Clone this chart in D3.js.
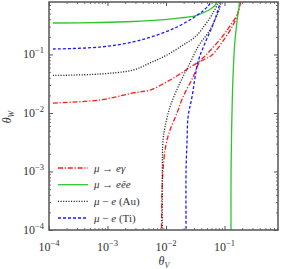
<!DOCTYPE html>
<html>
<head>
<meta charset="utf-8">
<script src="https://cdn.jsdelivr.net/npm/d3@7"></script>
<style>
  body { margin: 0; background: white; }
  svg { display: block; }
</style>
</head>
<body>
<script>

// each curve: [thetaV, thetaW] points
var muEGamma = [
  [1.17e-4, 0.0148], [7.45e-4, 0.0167], [2.73e-3, 0.022], [5.32e-3, 0.0247],
  [0.0117, 0.0366], [0.0195, 0.0502], [0.0339, 0.0716], [0.0464, 0.0837],
  [0.0611, 0.098], [0.102, 0.191], [0.140, 0.319], [0.170, 0.512],
  [0.184, 0.701], [0.188, 0.759], [0.177, 0.624], [0.164, 0.473],
  [0.134, 0.345], [0.0905, 0.199], [0.0483, 0.098], [0.0381, 0.0775],
  [0.029, 0.0412], [0.0195, 0.0188], [0.0154, 0.01], [0.0117, 5.12e-3],
  [0.0104, 3.45e-3], [9.62e-3, 2.33e-3], [8.89e-3, 1.06e-3], [8.55e-3, 4.83e-4],
  [8.38e-3, 1e-4]
];
var muEEE = [
  [1.17e-4, 0.345], [7.45e-4, 0.352], [2.73e-3, 0.366], [7.88e-3, 0.389],
  [0.0173, 0.421], [0.0313, 0.455], [0.0464, 0.532], [0.0611, 0.624],
  [0.0716, 0.729], [0.0775, 0.855], [0.115, 1.04], [0.173, 0.855],
  [0.164, 0.389], [0.151, 0.177], [0.140, 0.0447], [0.132, 4.55e-3],
  [0.129, 7.16e-4], [0.129, 1e-4]
];
var muEAu = [
  [1.17e-4, 0.0438], [7.45e-4, 0.0464], [2.73e-3, 0.0543], [5.32e-3, 0.0716],
  [0.0104, 0.098], [0.0195, 0.145], [0.0313, 0.199], [0.0464, 0.319],
  [0.0635, 0.512], [0.0775, 0.759], [0.0805, 0.855], [0.0837, 0.962],
  [0.0871, 0.855], [0.0837, 0.649], [0.0688, 0.389], [0.0522, 0.233],
  [0.0366, 0.145], [0.0257, 0.0716], [0.0173, 0.0326], [0.0117, 0.0127],
  [9.62e-3, 5.77e-3], [8.89e-3, 3.45e-3], [8.65e-3, 1.06e-3], [8.65e-3, 1e-4]
];
var muETi = [
  [1.17e-4, 0.124], [7.45e-4, 0.134], [2.73e-3, 0.164], [7.0e-3, 0.215],
  [0.0154, 0.295], [0.029, 0.421], [0.0428, 0.555], [0.0543, 0.701],
  [0.0611, 0.855], [0.0716, 1.0], [0.0871, 0.855], [0.0837, 0.759],
  [0.0745, 0.512], [0.0611, 0.295], [0.0464, 0.157], [0.0352, 0.0745],
  [0.0278, 0.0188], [0.0238, 8.55e-3], [0.0229, 3.45e-3], [0.022, 1.06e-3],
  [0.022, 1e-4]
];

var decades = [1e-4, 1e-3, 1e-2, 1e-1];
var decadeLabels = ["\u22124", "\u22123", "\u22122", "\u22121"];
var seriesNames = ["e\u03b3", "e\u0113e", "(Au)", "(Ti)"];

var W = 281, H = 269;
var pLeft = 49, pRight = 278, pTop = 2, pBottom = 230;

var svg = d3.select("body").append("svg")
    .attr("width", W).attr("height", H);

var x = d3.scaleLog().domain([1e-4, 0.82]).range([pLeft, pRight]);
var y = d3.scaleLog().domain([1e-4, 0.789]).range([pBottom, pTop]);

svg.append("clipPath").attr("id", "plotclip")
  .append("rect")
    .attr("x", pLeft).attr("y", pTop)
    .attr("width", pRight - pLeft).attr("height", pBottom - pTop);

// minor ticks: 2..9 of each decade inside the domain
function minorTicks(scale){
    var out = [];
    var dom = scale.domain();
    decades.forEach(function(d){
	for(var k = 2; k < 10; k++){
	    var v = d * k;
	    if(v < dom[1]) out.push(v);
	}
    });
    return out;
}

var frameColor = "#555";

function drawAxis(axisFn, scale, transform){
    // major
    var g = svg.append("g").attr("transform", transform)
	.call(axisFn(scale).tickValues(decades).tickSize(-4).tickFormat(""));
    g.select(".domain").remove();
    g.selectAll("line").attr("stroke", frameColor).attr("stroke-width", 1);
    // minor
    var g2 = svg.append("g").attr("transform", transform)
	.call(axisFn(scale).tickValues(minorTicks(scale)).tickSize(-2).tickFormat(""));
    g2.select(".domain").remove();
    g2.selectAll("line").attr("stroke", frameColor).attr("stroke-width", 0.8);
}

drawAxis(d3.axisBottom, x, "translate(0," + pBottom + ")");
drawAxis(d3.axisTop, x, "translate(0," + pTop + ")");
drawAxis(d3.axisLeft, y, "translate(" + pLeft + ",0)");
drawAxis(d3.axisRight, y, "translate(" + pRight + ",0)");

var serif = "'Liberation Serif', 'DejaVu Serif', serif";

// tick labels like 10^-3
function powerLabel(px, py, anchor, exp){
    var t = svg.append("text")
	.attr("x", px).attr("y", py)
	.attr("text-anchor", anchor)
	.attr("font-family", serif).attr("font-size", 12)
	.attr("fill", "#333");
    t.append("tspan").text("10");
    t.append("tspan").attr("dy", -5).attr("font-size", 8.5).text(exp);
}

decades.forEach(function(d, i){
    powerLabel(x(d), 251, "middle", decadeLabels[i]);
    powerLabel(pLeft - 5, y(d) + 4, "end", decadeLabels[i]);
});

// axis titles
var xt = svg.append("text")
    .attr("x", 164).attr("y", 265).attr("text-anchor", "middle")
    .attr("font-family", serif).attr("font-size", 12).attr("fill", "#333");
xt.append("tspan").attr("font-style", "italic").text("\u03b8");
xt.append("tspan").attr("dy", 3).attr("font-size", 8).attr("font-style", "italic").text("V");

var yt = svg.append("text")
    .attr("transform", "translate(11,117) rotate(-90)")
    .attr("text-anchor", "middle")
    .attr("font-family", serif).attr("font-size", 12).attr("fill", "#333");
yt.append("tspan").attr("font-style", "italic").text("\u03b8");
yt.append("tspan").attr("dy", 3).attr("font-size", 8).attr("font-style", "italic").text("W");

// curves
var line = d3.line()
    .x(function(d){ return x(d[0]); })
    .y(function(d){ return y(d[1]); })
    .curve(d3.curveCatmullRom.alpha(0.5));

var styles = [
    {data: muEGamma, color: "#ff1a1a", dash: "5,1.8,1.2,1.8"},
    {data: muEEE, color: "#2ec42e", dash: null},
    {data: muEAu, color: "#222", dash: "1.1,1.5"},
    {data: muETi, color: "#1a1aff", dash: "3,2"}
];

var plot = svg.append("g").attr("clip-path", "url(#plotclip)");
styles.forEach(function(s){
    plot.append("path")
	.attr("d", line(s.data))
	.attr("fill", "none")
	.attr("stroke", s.color)
	.attr("stroke-width", 1.3)
	.attr("stroke-dasharray", s.dash);
});

// frame
svg.append("rect")
    .attr("x", pLeft).attr("y", pTop)
    .attr("width", pRight - pLeft).attr("height", pBottom - pTop)
    .attr("fill", "none").attr("stroke", frameColor).attr("stroke-width", 1.5);

// legend
var legendY = [168, 184.7, 201.4, 218];
styles.forEach(function(s, i){
    svg.append("line")
	.attr("x1", 58).attr("x2", 88)
	.attr("y1", legendY[i]).attr("y2", legendY[i])
	.attr("stroke", s.color).attr("stroke-width", 1.3)
	.attr("stroke-dasharray", s.dash);

    var t = svg.append("text")
	.attr("x", 94).attr("y", legendY[i] + 3.5)
	.attr("font-family", serif).attr("font-size", 11).attr("fill", "#333");
    t.append("tspan").attr("font-style", "italic").text("\u03bc");
    if(i < 2){
	t.append("tspan").text(" \u2192 ");
	t.append("tspan").attr("font-style", "italic").text(seriesNames[i]);
    } else {
	t.append("tspan").text(" \u2212 ");
	t.append("tspan").attr("font-style", "italic").text("e");
	t.append("tspan").text(" " + seriesNames[i]);
    }
});

</script>
</body>
</html>
